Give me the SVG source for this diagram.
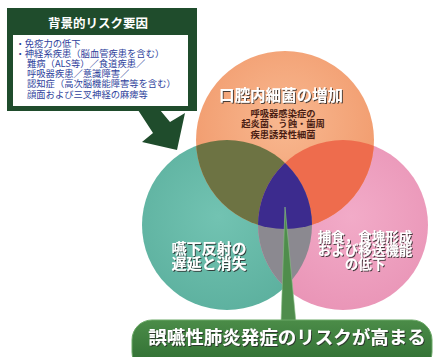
<svg xmlns="http://www.w3.org/2000/svg" width="434" height="357" viewBox="0 0 434 357">
<style>
.jp{font-family:"Noto Sans CJK JP","Noto Sans CJK SC",sans-serif}
.wt{fill:#ffffff;font-weight:bold;text-anchor:middle;filter:url(#sh)}
.bl{fill:#2e3f9c;font-size:9.3px}
.br{fill:#4a1e14;font-size:9.3px;font-weight:bold;text-anchor:middle}
</style>
<defs>
<filter id="sh" x="-10%" y="-30%" width="120%" height="160%">
<feDropShadow dx="1" dy="1" stdDeviation="0.5" flood-color="#2a2a2a" flood-opacity="0.85"/>
</filter>
<radialGradient id="gO" cx="50%" cy="40%" r="60%"><stop offset="0" stop-color="#f8b890"/><stop offset="1" stop-color="#f19a6c"/></radialGradient>
<radialGradient id="gT" cx="45%" cy="45%" r="60%"><stop offset="0" stop-color="#72c3b2"/><stop offset="1" stop-color="#5cb09e"/></radialGradient>
<radialGradient id="gP" cx="55%" cy="45%" r="60%"><stop offset="0" stop-color="#f2abc8"/><stop offset="1" stop-color="#e994b6"/></radialGradient>
<linearGradient id="gB" x1="0" y1="0" x2="0" y2="1"><stop offset="0" stop-color="#4b8c48"/><stop offset="1" stop-color="#2c6a30"/></linearGradient>
<clipPath id="cT"><circle cx="227" cy="225" r="85"/></clipPath>
<clipPath id="cP"><circle cx="343" cy="225" r="85"/></clipPath>
</defs>

<g id="risk-box">
<rect x="7" y="8" width="190" height="103" fill="#1f4c2c"/>
<rect x="13" y="35" width="175" height="71" fill="#ffffff"/>
<text class="jp" x="98" y="27.5" fill="#ffffff" font-size="12.5" font-weight="bold" text-anchor="middle">背景的リスク要因</text>
<text class="jp bl"><tspan x="15.5" y="47">・免疫力の低下</tspan><tspan x="15.5" y="57">・神経系疾患（脳血管疾患を含む）</tspan><tspan x="27" y="67">難病（ALS等）／食道疾患／</tspan><tspan x="27" y="77">呼吸器疾患／意識障害／</tspan><tspan x="27" y="87">認知症（高次脳機能障害等を含む）</tspan><tspan x="27" y="97.5">顔面および三叉神経の麻痺等</tspan></text>
</g>

<g id="connectors">
<polygon points="138,110 160,110 170,122 185,113 177,150 142,142 153,133" fill="#1f4c2c"/>
</g>

<g id="circle-teal">
<circle cx="227" cy="225" r="85" fill="url(#gT)"/>
</g>
<g id="circle-pink">
<circle cx="343" cy="225" r="85" fill="url(#gP)"/>
</g>
<g id="circle-orange">
<circle cx="285" cy="140" r="89" fill="url(#gO)"/>
</g>
<g id="overlaps">
<circle cx="285" cy="140" r="89" fill="#6d7343" clip-path="url(#cT)"/>
<circle cx="285" cy="140" r="89" fill="#ee6c4d" clip-path="url(#cP)"/>
<circle cx="227" cy="225" r="85" fill="#8b8990" clip-path="url(#cP)"/>
<g clip-path="url(#cP)"><circle cx="285" cy="140" r="89" fill="#3c2b8e" clip-path="url(#cT)"/></g>
</g>

<g id="label-orange">
<text class="jp wt" x="281" y="100.5" font-size="15.5">口腔内細菌の増加</text>
<text class="jp br"><tspan x="283" y="116.5">呼吸器感染症の</tspan><tspan x="283" y="127">起炎菌、う蝕・歯周</tspan><tspan x="283" y="137.5">疾患誘発性細菌</tspan></text>
</g>
<g id="label-teal">
<text class="jp wt" font-size="15"><tspan x="209" y="253.5">嚥下反射の</tspan><tspan x="209" y="268.5">遅延と消失</tspan></text>
</g>
<g id="label-pink">
<text class="jp wt" font-size="13.5"><tspan x="365" y="241.5">捕食，食塊形成</tspan><tspan x="365" y="255">および移送機能</tspan><tspan x="365" y="268.5">の低下</tspan></text>
</g>

<g id="result">
<polygon points="285,207 281,323 296,323" fill="#4f8d4c" stroke="#8cc088" stroke-width="0.6"/>
<rect x="132" y="320" width="300" height="52" rx="20" fill="url(#gB)" stroke="#6aa866" stroke-width="1"/>
<text class="jp wt" x="287" y="344" font-size="18.5">誤嚥性肺炎発症のリスクが高まる</text>
</g>
</svg>
